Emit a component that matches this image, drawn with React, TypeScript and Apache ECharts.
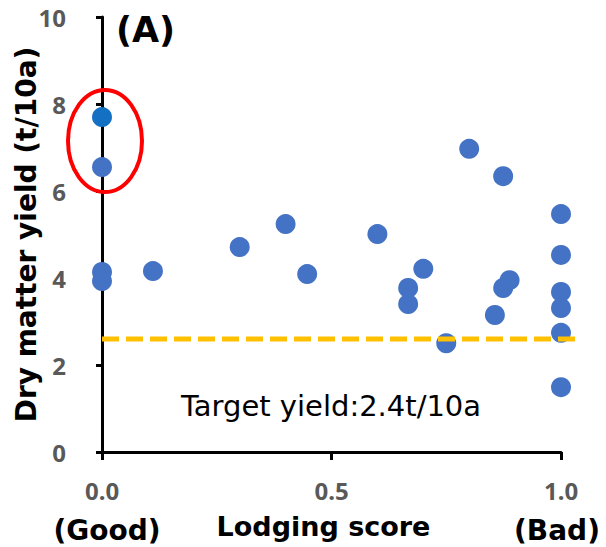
import React, { useEffect, useRef } from "react";
import * as echarts from "echarts";

const lodgingScore = [0, 0, 0, 0, 0.111, 0.3, 0.4, 0.447, 0.6, 0.667, 0.667, 0.7, 0.75, 0.8, 0.856, 0.874, 0.874, 0.888, 1, 1, 1, 1, 1, 1];
const dryMatterYield = [7.7, 6.55, 4.14, 3.93, 4.16, 4.71, 5.24, 4.09, 5.01, 3.77, 3.4, 4.21, 2.5, 6.97, 3.15, 6.34, 3.77, 3.95, 5.47, 4.53, 3.68, 3.31, 2.74, 1.49];
const targetLineX = [0, 1.035];
const targetLineY = [2.6, 2.6];
const yTicks = { min: 0, max: 10, interval: 2 };
const xTicks = { min: 0, max: 1, interval: 0.5 };

const FONT = "DejaVu Sans";
const TICK_FONT = "Noto Sans";

export default function App() {
  const ref = useRef<HTMLDivElement>(null);
  useEffect(() => {
    if (!ref.current) return;
    const chart = echarts.init(ref.current, null, { renderer: "svg" });
    const points = lodgingScore.map((x, i) =>
      i === 0
        ? { value: [x, dryMatterYield[i]], itemStyle: { color: "#1370C3" } }
        : { value: [x, dryMatterYield[i]] }
    );
    chart.setOption({
      animation: false,
      backgroundColor: "#ffffff",
      grid: [
        { left: 102, top: 17, width: 459, height: 435, containLabel: false, outerBoundsMode: "none" },
        { left: 102, top: 17, width: 475, height: 435, containLabel: false, outerBoundsMode: "none", show: false },
      ],
      xAxis: [
        {
          type: "value",
          gridIndex: 0,
          min: xTicks.min,
          max: xTicks.max,
          interval: xTicks.interval,
          name: "Lodging score",
          nameLocation: "middle",
          nameGap: 61,
          nameTextStyle: { fontFamily: FONT, fontWeight: "bold", fontSize: 27, color: "#000", padding: [0, 16, 0, 0] },
          axisLine: { show: true, lineStyle: { color: "#000", width: 3 } },
          axisTick: { show: true, inside: false, length: 8, lineStyle: { color: "#000", width: 3 } },
          axisLabel: {
            formatter: (v: number) => v.toFixed(1),
            fontFamily: TICK_FONT,
            fontWeight: "bold",
            fontSize: 24,
            color: "#595959",
            margin: 26,
          },
          splitLine: { show: false },
        },
        {
          type: "value",
          gridIndex: 1,
          min: targetLineX[0],
          max: targetLineX[1],
          show: false,
        },
      ],
      yAxis: [
        {
          type: "value",
          gridIndex: 0,
          min: yTicks.min,
          max: yTicks.max,
          interval: yTicks.interval,
          name: "Dry matter yield (t/10a)",
          nameLocation: "middle",
          nameGap: 62,
          nameMoveOverlap: false,
          nameTextStyle: { fontFamily: FONT, fontWeight: "bold", fontSize: 28, color: "#000" },
          axisLine: { show: true, lineStyle: { color: "#000", width: 3 } },
          axisTick: { show: true, inside: false, length: 6, lineStyle: { color: "#000", width: 3 } },
          axisLabel: {
            fontFamily: TICK_FONT,
            fontWeight: "bold",
            fontSize: 24,
            color: "#595959",
            margin: 36,
          },
          splitLine: { show: false },
        },
        {
          type: "value",
          gridIndex: 1,
          min: yTicks.min,
          max: yTicks.max,
          show: false,
        },
      ],
      series: [
        {
          type: "scatter",
          xAxisIndex: 0,
          yAxisIndex: 0,
          data: points,
          symbol: "circle",
          symbolSize: 20,
          itemStyle: { color: "#4472C4", opacity: 1 },
          z: 2,
        },
        {
          type: "line",
          xAxisIndex: 1,
          yAxisIndex: 1,
          data: targetLineX.map((x, i) => [x, targetLineY[i]]),
          symbol: "none",
          clip: false,
          lineStyle: { color: "#FFC000", width: 5, type: [17, 7] },
          z: 3,
        },
      ],
      graphic: [
        {
          type: "ellipse",
          shape: { cx: 105, cy: 141, rx: 37, ry: 51 },
          style: { fill: "none", stroke: "#FF0000", lineWidth: 4 },
          z: 10,
        },
        {
          type: "text",
          left: 116,
          top: 12,
          style: { text: "(A)", font: `bold 35px "${FONT}"`, fill: "#000" },
          z: 10,
        },
        {
          type: "text",
          x: 331,
          y: 406,
          style: { text: "Target yield:2.4t/10a", font: `29px "${FONT}"`, fill: "#000", textAlign: "center", textVerticalAlign: "middle" },
          z: 10,
        },
        {
          type: "text",
          x: 107,
          y: 530,
          style: { text: "(Good)", font: `bold 28px "${FONT}"`, fill: "#000", textAlign: "center", textVerticalAlign: "middle" },
          z: 10,
        },
        {
          type: "text",
          x: 557,
          y: 530,
          style: { text: "(Bad)", font: `bold 28px "${FONT}"`, fill: "#000", textAlign: "center", textVerticalAlign: "middle" },
          z: 10,
        },
      ],
    });
    return () => chart.dispose();
  }, []);
  return <div ref={ref} style={{ position: "fixed", left: 0, top: 0, width: 606, height: 547 }} />;
}
